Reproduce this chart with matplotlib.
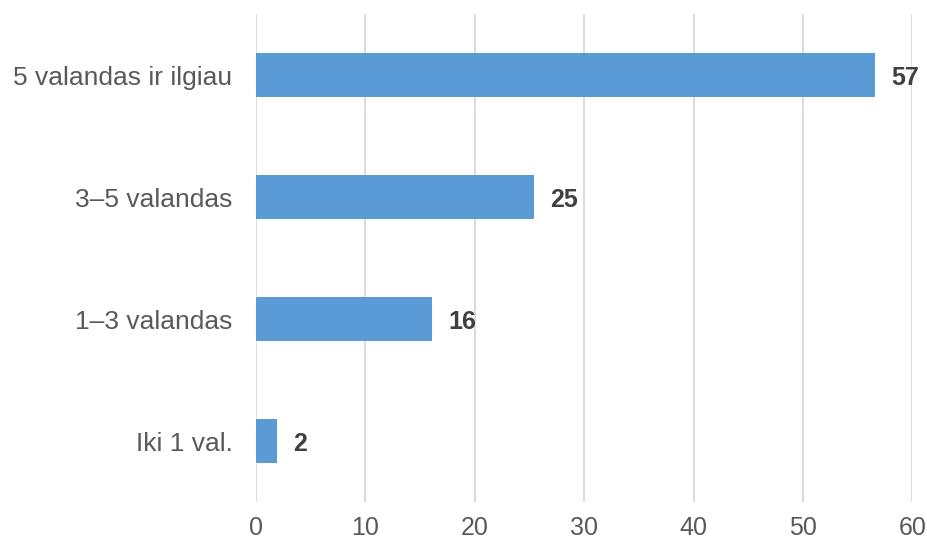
import matplotlib
matplotlib.use("Agg")
import matplotlib.pyplot as plt

# data, top to bottom as shown
categories = ["5 valandas ir ilgiau", "3–5 valandas", "1–3 valandas", "Iki 1 val."]
values = [56.6, 25.4, 16.1, 1.9]
labels = ["57", "25", "16", "2"]
xticks = [0, 10, 20, 30, 40, 50, 60]

plt.rcParams["font.family"] = ["Liberation Sans", "DejaVu Sans"]

fig = plt.figure(figsize=(9.28, 5.39), dpi=100)
ax = fig.add_axes([0.2759, 0.0686, 0.7072, 0.9054])

ypos = list(range(len(categories)))
ax.barh(ypos, values, height=0.355, color="#5B9BD5", zorder=3)

for y, v, lab in zip(ypos, values, labels):
    ax.annotate(lab, (v, y), xytext=(12, -2), textcoords="offset points",
                ha="left", va="center", fontsize=18, fontweight="bold",
                color="#404040")

ax.set_yticks(ypos)
ax.set_yticklabels(categories)
ax.set_ylim(len(categories) - 0.5, -0.5)
ax.set_xlim(0, 60)
ax.set_xticks(xticks)
ax.set_xticklabels([str(t) for t in xticks])

ax.tick_params(axis="y", length=0, pad=17, labelsize=19, labelcolor="#595959")
ax.tick_params(axis="x", length=0, pad=10, labelsize=18, labelcolor="#595959")
ax.grid(axis="x", color="#D9D9D9", linewidth=1.3, zorder=0)
for s in ax.spines.values():
    s.set_visible(False)

fig.savefig("out.png", dpi=100)
